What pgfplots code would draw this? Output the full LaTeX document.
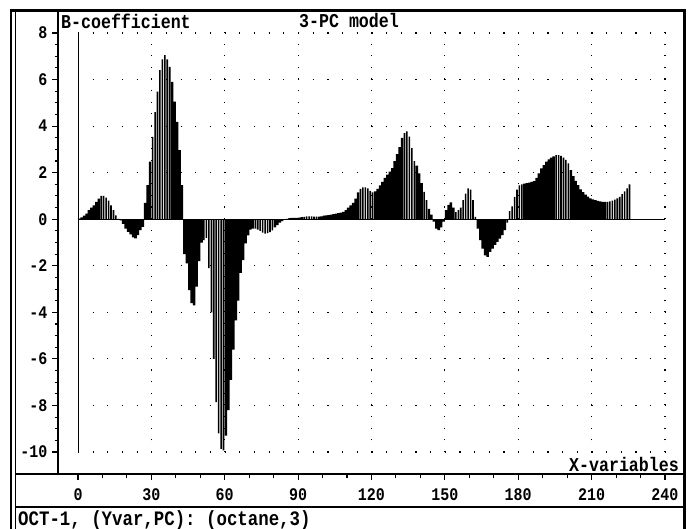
\documentclass[border=0pt]{standalone}
\usepackage{pgfplots}
\pgfplotsset{compat=1.18}
\usepackage{pgfplotstable}
\usepackage{fontspec}
\setmainfont{Liberation Mono}
\newcommand{\lbl}{\fontsize{16.6bp}{18bp}\selectfont\bfseries}
\newcommand{\tck}{\fontsize{15bp}{17bp}\selectfont\bfseries}
\newcommand{\tall}[1]{\scalebox{1}[1.18]{#1}}

\pgfplotstableread{
k y
1 0.03
2 0.08
3 0.15
4 0.24
5 0.39
6 0.5
7 0.6
8 0.75
9 0.89
17 0.02
18 -0.05
19 -0.2
20 -0.4
21 -0.54
22 -0.65
23 -0.78
24 -0.82
25 -0.68
26 -0.47
27 -0.33
28 0.7
29 1.46
30 2.47
39 5.9
40 5.05
41 4.18
42 2.97
43 1.46
44 -1.5
45 -1.9
46 -3.05
47 -3.6
48 -3.7
49 -2.9
50 -1.8
51 -1.0
61 -9.3
62 -8.2
63 -6.9
64 -5.6
65 -4.35
66 -3.5
67 -2.3
68 -1.76
69 -1.04
70 -0.69
71 -0.45
72 -0.4
81 -0.35
82 -0.25
83 -0.15
84 -0.08
85 -0.02
86 0.02
87 0.05
88 0.06
89 0.06
90 0.06
91 0.07
92 0.09
99 0.11
100 0.12
101 0.15
102 0.17
103 0.18
104 0.2
105 0.22
106 0.24
107 0.26
108 0.28
109 0.32
110 0.39
111 0.5
112 0.6
113 0.7
114 0.89
115 1.15
122 1.2
123 1.3
124 1.45
125 1.6
126 1.78
127 1.92
128 2.05
129 2.2
130 2.5
131 2.8
132 3.1
133 3.5
139 2.3
140 1.97
141 1.55
144 0.45
145 0.2
146 -0.1
147 -0.4
148 -0.47
149 -0.35
150 -0.1
151 0.39
152 0.62
153 0.72
154 0.5
164 -0.4
165 -0.9
166 -1.26
167 -1.55
168 -1.62
169 -1.4
170 -1.26
171 -1.1
172 -0.97
173 -0.83
174 -0.68
175 -0.47
183 1.53
184 1.55
185 1.57
186 1.6
187 1.64
188 1.78
189 1.97
190 2.18
191 2.32
192 2.47
193 2.57
194 2.65
195 2.7
202 2.11
203 1.85
204 1.65
205 1.46
206 1.28
207 1.16
208 1.06
209 0.97
210 0.9
211 0.85
212 0.82
213 0.79
214 0.77
215 0.75
216 0.75
}\solidtab

\pgfplotstableread{
k y
10 1.0
11 1.0
12 0.93
13 0.8
14 0.6
15 0.39
16 0.17
31 3.54
32 4.6
33 5.48
34 6.4
35 6.87
36 7.05
37 6.87
38 6.55
52 -0.9
53 -0.8
54 -2.1
55 -4.0
56 -6.0
57 -7.86
58 -9.2
59 -9.86
60 -9.93
73 -0.4
74 -0.45
75 -0.5
76 -0.58
77 -0.62
78 -0.6
79 -0.55
80 -0.48
93 0.1
94 0.12
95 0.12
96 0.12
97 0.11
98 0.11
116 1.3
117 1.37
118 1.37
119 1.32
120 1.22
121 1.15
134 3.7
135 3.77
136 3.55
137 3.05
138 2.5
142 1.18
143 0.82
155 0.3
156 0.39
157 0.5
158 0.82
159 1.1
160 1.32
161 1.27
162 0.82
163 0.1
176 -0.15
177 0.35
178 0.55
179 0.96
180 1.27
181 1.45
182 1.5
196 2.75
197 2.75
198 2.72
199 2.65
200 2.55
201 2.4
217 0.75
218 0.77
219 0.8
220 0.84
221 0.9
222 0.96
223 1.08
224 1.2
225 1.32
226 1.5
}\stripetab

\begin{document}
\begin{tikzpicture}[x=1bp,y=1bp]
\useasboundingbox (0,0) rectangle (690,-529);
\begin{axis}[
  at={(58bp,-474bp)}, anchor=south west,
  scale only axis, width=627bp, height=464bp,
  xmin=-8.18, xmax=248.2, ymin=-10.945, ymax=8.988,
  axis x line*=bottom, axis y line*=left,
  axis line style={line width=1.2bp, -},
  xtick={0,30,...,240},
  xticklabels={\tall{0},\tall{30},\tall{60},\tall{90},\tall{120},\tall{150},\tall{180},\tall{210},\tall{240}},
  minor xtick={10,20,40,50,70,80,100,110,130,140,160,170,190,200,220,230},
  ytick={-10,-8,-6,-4,-2,0,2,4,6,8},
  yticklabels={\tall{-10},\tall{-8},\tall{-6},\tall{-4},\tall{-2},\tall{0},\tall{2},\tall{4},\tall{6},\tall{8}},
  minor y tick num=3,
  xtick pos=bottom, ytick pos=left,
  tick align=outside,
  major tick length=6bp, minor tick length=3.5bp,
  tick style={line width=1.2bp, black},
  minor tick style={line width=1.1bp, black},
  /pgf/number format/assume math mode=true,
  xticklabel style={font=\tck, anchor=center, inner sep=0pt, yshift=-14.5bp},
  yticklabel style={font=\tck, anchor=east, inner sep=0pt, xshift=-4.5bp},
  clip=false,
]
% dotted grid
\pgfplotsinvokeforeach{-10,-8,-6,-4,-2,2,4,6,8}{
  \draw[line width=1.1bp, dash pattern=on 1.1bp off 13.57bp] (axis cs:0,#1) -- (axis cs:240,#1);
}
\pgfplotsinvokeforeach{30,60,90,120,150,180,210,240}{
  \draw[line width=1.1bp, dash pattern=on 1.1bp off 10.54bp] (axis cs:#1,-10) -- (axis cs:#1,8.1);
}
\addplot[ybar, bar width=1.04, bar shift=0pt, fill=black, draw=none]
  table[x expr=\thisrow{k}-0.5, y=y] {\solidtab};
\addplot[ybar, bar width=0.64, bar shift=0pt, fill=black, draw=none]
  table[x expr=\thisrow{k}-0.5, y=y] {\stripetab};
\draw[line width=1bp] (axis cs:0,-10) -- (axis cs:0,8);
\draw[line width=1.3bp] (axis cs:0,0) -- (axis cs:240,0);
\end{axis}
% frame
\draw[line width=2.5bp] (10,-10.3) -- (686,-10.3);
\draw[line width=2.3bp] (11.2,-9) -- (11.2,-529);
\draw[line width=1bp] (15.2,-10) -- (15.2,-529);
\draw[line width=3bp] (684.5,-9) -- (684.5,-529);
\draw[line width=1.3bp] (15,-474) -- (685,-474);
\draw[line width=1.3bp] (15,-507) -- (685,-507);
% texts
\node[anchor=west, inner sep=0pt, font=\lbl] at (61,-21) {\tall{B-coefficient}};
\node[anchor=west, inner sep=0pt, font=\lbl] at (299,-21) {\tall{3-PC model}};
\node[anchor=east, inner sep=0pt, font=\lbl] at (679,-464) {\tall{X-variables}};
\node[anchor=west, inner sep=0pt, font=\fontsize{17.4bp}{19bp}\selectfont\bfseries] at (18,-520.5) {\tall{OCT-1, (Yvar,PC): (octane,3)}};
\end{tikzpicture}
\end{document}
